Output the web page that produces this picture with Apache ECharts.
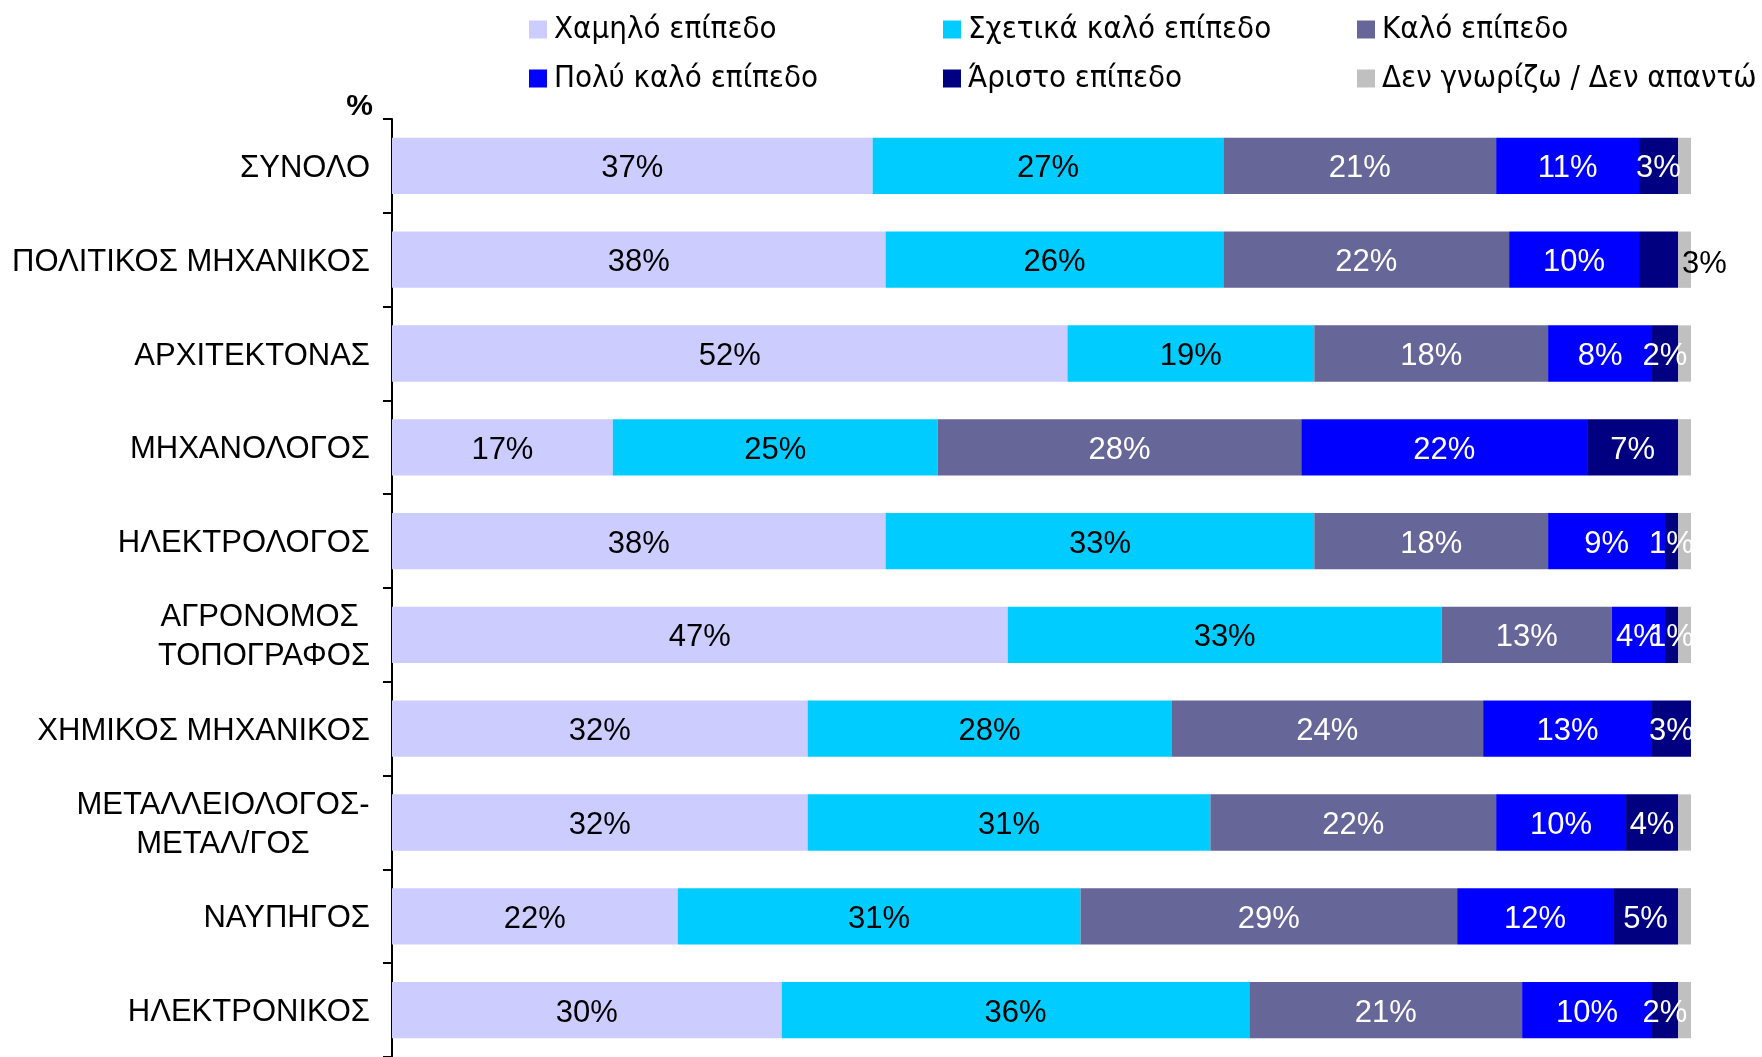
<!DOCTYPE html>
<html>
<head>
<meta charset="utf-8">
<script src="https://cdn.jsdelivr.net/npm/echarts@6/dist/echarts.min.js"></script>
<style>
html,body{margin:0;padding:0;background:#fff;}
#chart{width:1762px;height:1057px;}
</style>
</head>
<body>
<div id="chart"></div>
<script>
const categories = [
  'ΣΥΝΟΛΟ',
  'ΠΟΛΙΤΙΚΟΣ ΜΗΧΑΝΙΚΟΣ',
  'ΑΡΧΙΤΕΚΤΟΝΑΣ',
  'ΜΗΧΑΝΟΛΟΓΟΣ',
  'ΗΛΕΚΤΡΟΛΟΓΟΣ',
  'ΑΓΡΟΝΟΜΟΣ \nΤΟΠΟΓΡΑΦΟΣ',
  'ΧΗΜΙΚΟΣ ΜΗΧΑΝΙΚΟΣ',
  'ΜΕΤΑΛΛΕΙΟΛΟΓΟΣ-\nΜΕΤΑΛ/ΓΟΣ',
  'ΝΑΥΠΗΓΟΣ',
  'ΗΛΕΚΤΡΟΝΙΚΟΣ'
];
const seriesNames = ['Χαμηλό επίπεδο','Σχετικά καλό επίπεδο','Καλό επίπεδο','Πολύ καλό επίπεδο','Άριστο επίπεδο','Δεν γνωρίζω / Δεν απαντώ'];
const low       = [37, 38, 52, 17, 38, 47.4, 32, 32, 22, 30];
const fairGood  = [27, 26, 19, 25, 33, 33.4, 28, 31, 31, 36];
const good      = [21, 22, 18, 28, 18, 13.1, 24, 22, 29, 21];
const veryGood  = [11, 10, 8, 22, 9, 4.1, 13, 10, 12, 10];
const excellent = [3, 3, 2, 7, 1, 1, 3, 4, 5, 2];
const dontKnow  = [1, 1, 1, 1, 1, 1, 0, 1, 1, 1];
const axisName = '%';

const colors = ['#CCCCFF','#00CCFF','#666699','#0000FF','#000080','#C0C0C0'];
const labelColors = ['#000','#000','#fff','#fff','#fff',null];
const seriesData = [low, fairGood, good, veryGood, excellent, dontKnow];

const FONT = '"Liberation Sans", Arial, sans-serif';
const NARROW = '"Liberation Sans Narrow", "Arial Narrow", "DejaVu Sans Condensed", sans-serif';
const LBL = 31;
const CAT = 31;

const series = seriesData.map((arr, si) => ({
  name: seriesNames[si],
  type: 'bar',
  stack: 'total',
  barWidth: '60%',
  itemStyle: { color: colors[si] },
  emphasis: { disabled: true },
  label: labelColors[si] ? {
    show: true,
    position: 'inside',
    offset: [0, 3],
    color: labelColors[si],
    fontFamily: FONT,
    fontSize: LBL,
    formatter: p => Math.round(p.value) + '%'
  } : { show: false },
  data: arr.map((v, i) => {
    // Άριστο label for ΠΟΛΙΤΙΚΟΣ ΜΗΧΑΝΙΚΟΣ sits outside the bar in the reference
    if (si === 4 && i === 1) {
      return { value: v, label: { position: 'right', distance: 4, offset: [0, 5], color: '#000' } };
    }
    return v;
  })
}));

const chart = echarts.init(document.getElementById('chart'), null, { renderer: 'canvas' });
chart.setOption({
  backgroundColor: '#fff',
  animation: false,
  legend: {
    data: seriesNames,
    left: 524,
    top: 0,
    width: 1300,
    itemGap: 0,
    itemWidth: 18,
    itemHeight: 18,
    icon: 'rect',
    textStyle: {
      fontFamily: NARROW,
      fontSize: 31,
      color: '#000',
      width: 389,
      lineHeight: 49,
      padding: [0, 0, 0, 2]
    },
    selectedMode: false
  },
  grid: { left: 392, right: 71, top: 119, bottom: 0, containLabel: false },
  xAxis: {
    type: 'value',
    min: 0,
    max: 100,
    show: false
  },
  yAxis: {
    type: 'category',
    data: categories,
    inverse: true,
    name: axisName,
    nameLocation: 'start',
    nameGap: 12,
    nameTextStyle: {
      fontFamily: FONT, fontSize: 30, fontWeight: 'bold', color: '#000',
      align: 'right', verticalAlign: 'middle', padding: [0, 19, 0, 0]
    },
    axisLine: { show: true, lineStyle: { color: '#000', width: 2 } },
    axisTick: { show: true, length: 9, lineStyle: { color: '#000', width: 2 } },
    axisLabel: {
      margin: 22,
      fontFamily: FONT,
      fontSize: CAT,
      color: '#000',
      lineHeight: 39,
      padding: [5, 0, 0, 0],
      formatter: v => {
        if (v.indexOf('\n') >= 0) {
          const key = v.indexOf('ΜΕΤΑΛ') === 0 ? 'm' : 'a';
          return v.split('\n').map(s => '{' + key + '|' + s + '}').join('\n');
        }
        return v;
      },
      rich: {
        m: { fontFamily: FONT, fontSize: CAT, color: '#000', lineHeight: 39, width: 294, align: 'center' },
        a: { fontFamily: FONT, fontSize: CAT, color: '#000', lineHeight: 39, width: 212, align: 'center' }
      }
    },
    splitLine: { show: false }
  },
  series: series
});
</script>
</body>
</html>
